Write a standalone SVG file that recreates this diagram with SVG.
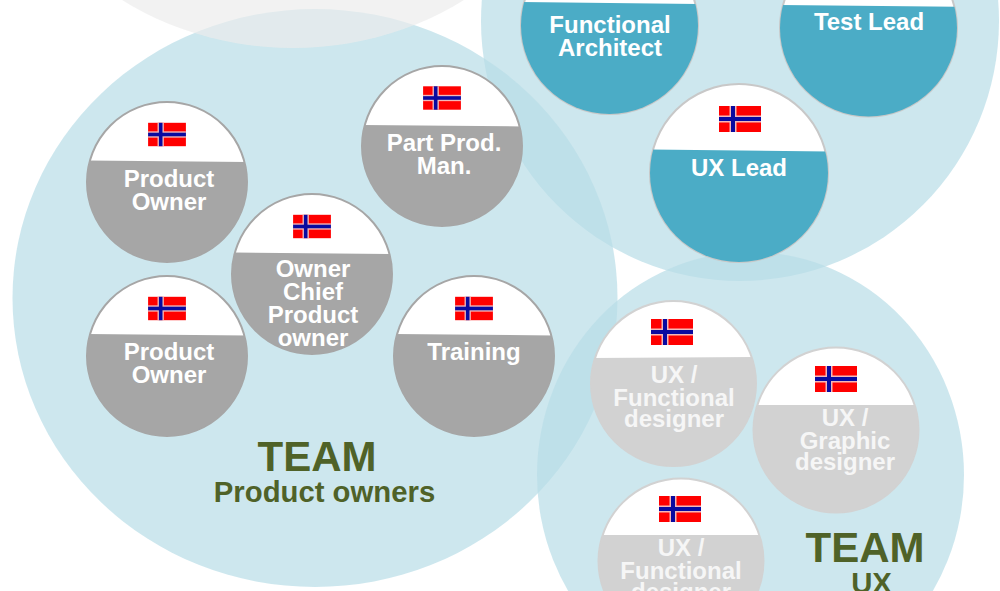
<svg xmlns="http://www.w3.org/2000/svg" width="1000" height="591" viewBox="0 0 1000 591">
<style>
.l{font-family:"Liberation Sans",Arial,sans-serif;font-weight:700;font-size:24px;fill:#fff;text-anchor:middle}
.u{fill:#f6f6f6}
.t{font-family:"Liberation Sans",Arial,sans-serif;font-weight:700;fill:#4f6228;text-anchor:middle}
.big{fill:#b8dde7;fill-opacity:.7}
.bn{fill:#fff;stroke:#c8c8c8;stroke-width:2}
.gn{fill:#fff;stroke:#a6a6a6;stroke-width:2}
.ln{fill:#fff;stroke:#d2d2d2;stroke-width:2}
</style>
<defs>
<g id="flag">
<rect x="-21" y="-13" width="42" height="26" fill="#f00"/>
<rect x="-21" y="-3.500" width="42" height="7" fill="#f4b8b8"/>
<rect x="-10.500" y="-13" width="7" height="26" fill="#f4b8b8"/>
<rect x="-9" y="-13" width="4" height="26" fill="#0a0aa0"/>
<rect x="-21" y="-2" width="42" height="4" fill="#0a0aa0"/>
</g>
</defs>
<g id="team-top"><ellipse class="big" cx="740" cy="21" rx="259" ry="260"/></g>
<g id="team-po"><ellipse class="big" cx="315" cy="298" rx="302.500" ry="289"/>
<text class="t" x="317" y="471" font-size="42">TEAM</text><text class="t" x="324.500" y="502" font-size="29.300">Product owners</text></g>
<g id="team-ux"><ellipse class="big" cx="750.500" cy="475" rx="213.500" ry="223"/>
<text class="t" x="865" y="562" font-size="42">TEAM</text><text class="t" x="871.500" y="593" font-size="29.300">UX</text></g>
<g id="team-top-grey"><ellipse cx="293" cy="-200" rx="289" ry="248" fill="#ececec" fill-opacity=".68"/></g>

<g id="functional-architect"><clipPath id="c1"><circle cx="609.500" cy="25.500" r="88.500"/></clipPath>
<circle class="bn" cx="609.500" cy="25.500" r="88.500"/>
<polygon points="510,2 710,4 710,120 510,120" fill="#4bacc6" clip-path="url(#c1)"/>
<text class="l" x="610" y="33">Functional</text><text class="l" x="610" y="56">Architect</text></g>
<g id="test-lead"><clipPath id="c2"><circle cx="868.500" cy="28" r="88.500"/></clipPath>
<circle class="bn" cx="868.500" cy="28" r="88.500"/>
<polygon points="770,5 970,7 970,125 770,125" fill="#4bacc6" clip-path="url(#c2)"/>
<text class="l" x="869" y="30">Test Lead</text></g>
<g id="ux-lead"><clipPath id="c3"><circle cx="739" cy="173" r="89"/></clipPath>
<circle class="bn" cx="739" cy="173" r="89"/>
<polygon points="640,149.500 840,151.500 840,270 640,270" fill="#4bacc6" clip-path="url(#c3)"/>
<use href="#flag" x="740" y="119"/>
<text class="l" x="739" y="176">UX Lead</text></g>

<g id="product-owner-1"><clipPath id="c4"><circle cx="167" cy="182" r="80"/></clipPath>
<circle class="gn" cx="167" cy="182" r="80"/>
<polygon points="80,160.500 255,162 255,270 80,270" fill="#a6a6a6" clip-path="url(#c4)"/>
<use href="#flag" transform="translate(167 134.500) scale(.9 .9)"/>
<text class="l" x="169" y="187">Product</text><text class="l" x="169" y="210">Owner</text></g>
<g id="part-prod-man"><clipPath id="c5"><circle cx="442" cy="146" r="80"/></clipPath>
<circle class="gn" cx="442" cy="146" r="80"/>
<polygon points="355,125 530,126.500 530,235 355,235" fill="#a6a6a6" clip-path="url(#c5)"/>
<use href="#flag" transform="translate(442 98) scale(.9 .9)"/>
<text class="l" x="444" y="151">Part Prod.</text><text class="l" x="444" y="174">Man.</text></g>
<g id="owner-chief"><clipPath id="c6"><circle cx="312" cy="274" r="80"/></clipPath>
<circle class="gn" cx="312" cy="274" r="80"/>
<polygon points="225,252.500 400,254 400,360 225,360" fill="#a6a6a6" clip-path="url(#c6)"/>
<use href="#flag" transform="translate(312 226.500) scale(.9 .9)"/>
<text class="l" x="313" y="277">Owner</text><text class="l" x="313" y="300">Chief</text><text class="l" x="313" y="323">Product</text><text class="l" x="313" y="346">owner</text></g>
<g id="product-owner-2"><clipPath id="c7"><circle cx="167" cy="356" r="80"/></clipPath>
<circle class="gn" cx="167" cy="356" r="80"/>
<polygon points="80,334 255,335.500 255,445 80,445" fill="#a6a6a6" clip-path="url(#c7)"/>
<use href="#flag" transform="translate(167 308.500) scale(.9 .9)"/>
<text class="l" x="169" y="360">Product</text><text class="l" x="169" y="383">Owner</text></g>
<g id="training"><clipPath id="c8"><circle cx="474" cy="356" r="80"/></clipPath>
<circle class="gn" cx="474" cy="356" r="80"/>
<polygon points="387,334 562,335.500 562,445 387,445" fill="#a6a6a6" clip-path="url(#c8)"/>
<use href="#flag" transform="translate(474 308.500) scale(.9 .9)"/>
<text class="l" x="474" y="360">Training</text></g>

<g id="ux-func-1"><clipPath id="c9"><circle cx="673.500" cy="383.500" r="82.500"/></clipPath>
<circle class="ln" cx="673.500" cy="383.500" r="82.500"/>
<polygon points="580,358 770,357 770,475 580,475" fill="#d2d2d2" clip-path="url(#c9)"/>
<use href="#flag" x="672" y="332"/>
<text class="l u" x="674" y="383">UX /</text><text class="l u" x="674" y="406">Functional</text><text class="l u" x="674" y="427">designer</text></g>
<g id="ux-graphic"><clipPath id="c10"><circle cx="836" cy="430" r="82.500"/></clipPath>
<circle class="ln" cx="836" cy="430" r="82.500"/>
<polygon points="745,405 925,405 925,520 745,520" fill="#d2d2d2" clip-path="url(#c10)"/>
<use href="#flag" x="836" y="379"/>
<text class="l u" x="845" y="426">UX /</text><text class="l u" x="845" y="449">Graphic</text><text class="l u" x="845" y="470">designer</text></g>
<g id="ux-func-2"><clipPath id="c11"><circle cx="681" cy="561" r="82.500"/></clipPath>
<circle class="ln" cx="681" cy="561" r="82.500"/>
<polygon points="590,535 775,535 775,650 590,650" fill="#d2d2d2" clip-path="url(#c11)"/>
<use href="#flag" x="680" y="509"/>
<text class="l u" x="681" y="556">UX /</text><text class="l u" x="681" y="579">Functional</text><text class="l u" x="681" y="600">designer</text></g>
<g id="connectors"></g>
</svg>
